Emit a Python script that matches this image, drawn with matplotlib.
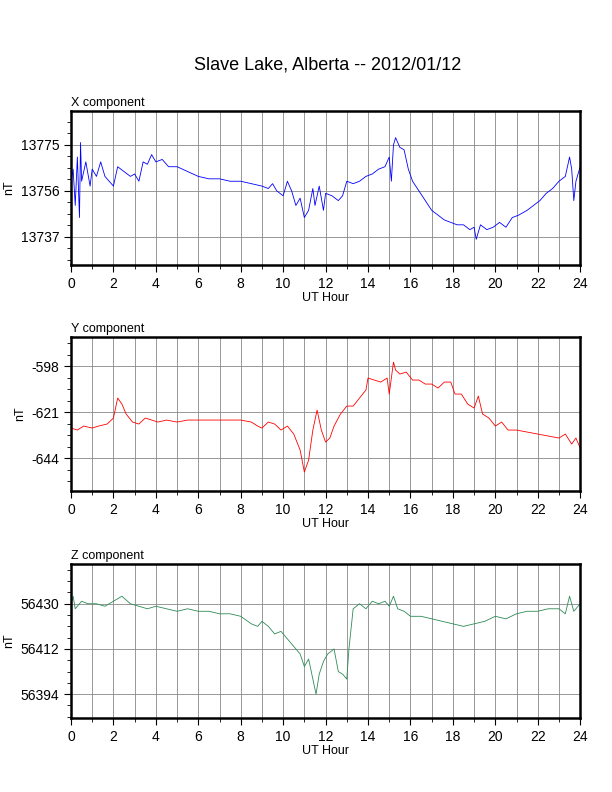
import matplotlib
matplotlib.use("Agg")
import matplotlib.pyplot as plt
from matplotlib.ticker import MultipleLocator

plt.rcParams['font.family'] = ['Liberation Sans', 'DejaVu Sans']
plt.rcParams['axes.unicode_minus'] = False

# hour / value pairs
x_hr = [0, 0.1, 0.2, 0.3, 0.4, 0.45, 0.5, 0.7, 0.9, 1.0, 1.2, 1.4, 1.6, 1.8, 2.0, 2.2, 2.5, 2.8, 3.0, 3.2,
        3.4, 3.6, 3.8, 4.0, 4.3, 4.6, 5.0, 5.5, 6.0, 6.5, 7.0, 7.5, 8.0, 8.5, 9.0, 9.3, 9.5, 9.7, 10.0, 10.2,
        10.4, 10.6, 10.8, 11.0, 11.2, 11.4, 11.5, 11.7, 11.9, 12.0, 12.3, 12.6, 12.8, 13.0, 13.3, 13.6, 13.9,
        14.2, 14.5, 14.8, 15.0, 15.1, 15.2, 15.3, 15.5, 15.7, 15.9, 16.1, 16.4, 16.7, 17.0, 17.3, 17.6, 17.9,
        18.2, 18.5, 18.8, 19.0, 19.1, 19.3, 19.6, 19.9, 20.2, 20.5, 20.8, 21.1, 21.5, 21.8, 22.1, 22.4, 22.7,
        23.0, 23.3, 23.5, 23.6, 23.7, 23.8, 24.0]
x_val = [13760, 13765, 13750, 13770, 13745, 13776, 13760, 13768, 13758, 13765, 13762, 13768, 13762, 13760,
         13758, 13766, 13764, 13762, 13763, 13760, 13768, 13767, 13771, 13768, 13769, 13766, 13766, 13764,
         13762, 13761, 13761, 13760, 13760, 13759, 13758, 13757, 13759, 13756, 13754, 13760, 13756, 13750,
         13753, 13745, 13748, 13757, 13750, 13758, 13748, 13755, 13754, 13752, 13754, 13760, 13759, 13760,
         13762, 13763, 13765, 13766, 13770, 13760, 13775, 13778, 13774, 13773, 13765, 13760, 13756, 13752,
         13748, 13746, 13744, 13743, 13742, 13742, 13740, 13741, 13736, 13742, 13740, 13741, 13743, 13741,
         13745, 13746, 13748, 13750, 13752, 13755, 13757, 13760, 13762, 13770, 13765, 13752, 13760, 13766]

y_hr = [0, 0.3, 0.6, 1.0, 1.3, 1.7, 2.0, 2.2, 2.4, 2.6, 2.9, 3.2, 3.5, 3.8, 4.1, 4.5, 5, 5.5, 6, 6.5, 7,
        7.5, 8, 8.5, 8.8, 9.0, 9.3, 9.6, 9.9, 10.2, 10.5, 10.8, 11.0, 11.2, 11.4, 11.6, 11.8, 12.0, 12.2,
        12.4, 12.7, 13.0, 13.3, 13.6, 13.9, 14.0, 14.3, 14.6, 14.9, 15.0, 15.2, 15.3, 15.5, 15.8, 16.1, 16.4,
        16.7, 17.0, 17.3, 17.6, 17.9, 18.1, 18.4, 18.7, 19.0, 19.2, 19.4, 19.7, 20.0, 20.3, 20.6, 21, 21.5,
        22, 22.5, 23, 23.3, 23.6, 23.8, 24]
y_val = [-629, -630, -628, -629, -628, -627, -624, -614, -617, -622, -626, -627, -624, -625, -626, -625,
         -626, -625, -625, -625, -625, -625, -625, -626, -628, -629, -626, -627, -630, -628, -632, -640,
         -651, -645, -630, -620, -630, -636, -634, -628, -622, -618, -618, -614, -610, -604, -605, -606,
         -604, -612, -596, -600, -602, -601, -605, -605, -607, -607, -609, -606, -606, -612, -612, -617,
         -619, -613, -622, -624, -628, -626, -630, -630, -631, -632, -633, -634, -632, -637, -634, -639]

z_hr = [0, 0.1, 0.2, 0.5, 0.8, 1.2, 1.6, 2.0, 2.4, 2.8, 3.2, 3.6, 4, 4.5, 5, 5.5, 6, 6.5, 7, 7.5, 8, 8.5,
        8.8, 9.0, 9.3, 9.6, 9.9, 10.2, 10.5, 10.8, 11.0, 11.2, 11.4, 11.55, 11.7, 11.9, 12.1, 12.4, 12.6,
        12.8, 13.0, 13.1, 13.3, 13.6, 13.9, 14.2, 14.5, 14.8, 15.0, 15.2, 15.4, 15.7, 16, 16.5, 17, 17.5,
        18, 18.5, 19, 19.5, 20, 20.5, 21, 21.5, 22, 22.5, 23, 23.3, 23.5, 23.7, 24]
z_val = [56430, 56433, 56428, 56431, 56430, 56430, 56429, 56431, 56433, 56430, 56429, 56428, 56429, 56428,
         56427, 56428, 56427, 56427, 56426, 56426, 56425, 56422, 56421, 56423, 56421, 56418, 56419, 56416,
         56413, 56410, 56405, 56408, 56400, 56394, 56402, 56407, 56410, 56412, 56403, 56402, 56400, 56412,
         56428, 56430, 56428, 56431, 56430, 56431, 56429, 56433, 56428, 56427, 56425, 56425, 56424, 56423,
         56422, 56421, 56422, 56423, 56425, 56424, 56426, 56427, 56427, 56428, 56428, 56426, 56433, 56427,
         56430]

panels = [
    ("X component", x_hr, x_val, "blue", [13737, 13756, 13775], (13725.4, 13789), 0.6654),
    ("Y component", y_hr, y_val, "red", [-644, -621, -598], (-660.5, -583.5), 0.3800),
    ("Z component", z_hr, z_val, "#2e8b57", [56394, 56412, 56430], (56384.5, 56445.8), 0.0934),
]

fig = plt.figure(figsize=(6.12, 7.92), dpi=100)
fig.text(0.535, 0.912, "Slave Lake, Alberta -- 2012/01/12", ha="center", fontsize=13)

for title, hr, val, col, yt, ylim, bottom in panels:
    ax = fig.add_axes([0.116, bottom, 0.832, 0.1944])
    ax.plot(hr, val, color=col, lw=0.6)
    ax.set_xlim(0, 24)
    ax.set_ylim(*ylim)
    ax.set_xticks(range(0, 25, 2))
    ax.xaxis.set_minor_locator(MultipleLocator(1))
    ax.set_yticks(yt)
    step = (yt[1] - yt[0]) / 4
    ax.yaxis.set_minor_locator(MultipleLocator(step))
    ax.grid(True, which="major", color="#888888", lw=0.6)
    ax.grid(True, which="minor", axis="x", color="#888888", lw=0.6)
    for s in ax.spines.values():
        s.set_linewidth(1.8)
    ax.tick_params(direction="out", labelsize=10, length=5)
    ax.tick_params(which="minor", direction="out", length=3)
    ax.set_xlabel("UT Hour", fontsize=9, labelpad=1)
    ax.set_ylabel("nT", fontsize=9)
    ax.text(0.0, 1.03, title, transform=ax.transAxes, fontsize=9)

fig.savefig("out.png", dpi=100)
